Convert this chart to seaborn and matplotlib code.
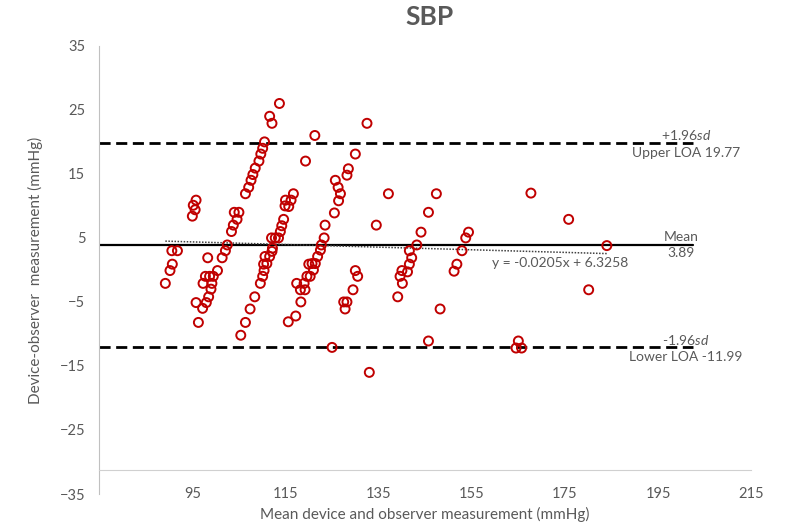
import numpy as np
import pandas as pd
import matplotlib.pyplot as plt
import seaborn as sns

# --- Settings ---
sns.set_style("white")
plt.rcParams["font.family"] = ["Lato", "DejaVu Sans"]
plt.rcParams["mathtext.fontset"] = "custom"
plt.rcParams["mathtext.it"] = "Lato:italic"
plt.rcParams["mathtext.rm"] = "Lato"

grey = "#595959"
red = "#C00000"

# --- Data ---
mean_bp = [107.1, 106.4, 95.8, 95.2, 95.6, 95.0, 104.0, 105.0, 104.6,
           103.8, 103.4, 90.6, 91.8, 102.5, 102.1, 101.4, 98.3, 90.7, 90.2,
           100.4, 89.2, 97.8, 98.7, 99.5, 97.3, 99.2, 99.0, 98.5, 95.8,
           98.0, 97.2, 96.3, 108.4, 107.4, 106.4, 105.4,
           113.7, 111.6, 112.1, 121.3, 110.5, 110.1, 109.7, 109.3, 108.5, 108.0,
           107.6, 119.3, 125.7, 126.3, 126.8, 126.4, 125.5, 123.5, 123.3, 122.7,
           128.5, 128.2, 116.7, 116.2, 115.0, 114.9, 115.7, 114.6, 114.2, 113.9,
           113.5, 112.0, 112.8, 112.2,
           122.5, 112.1, 111.6, 110.6, 111.0, 110.3, 110.4, 110.1, 109.6, 121.9,
           121.4, 120.7, 120.0, 121.0, 120.3, 119.6, 119.0, 117.4, 118.2, 119.2,
           118.3, 117.2, 115.6, 125.0, 127.5, 128.2, 127.8,
           132.5, 130.0, 137.1, 147.4, 145.7, 134.5, 144.1, 143.2, 154.3, 153.7,
           152.9, 141.6, 142.1, 141.6, 141.2, 140.0, 139.6, 140.1, 151.8, 151.2,
           130.0, 130.5, 129.5, 139.1, 148.2, 145.7, 133.0,
           167.7, 175.8, 180.1, 165.0, 164.5, 165.7, 184.0]
diff_bp = [12.9, 11.9, 10.9, 10.1, 9.4, 8.4, 9.0, 9.0, 7.9,
           7.0, 6.0, 3.0, 3.0, 3.9, 3.0, 1.9, 1.9, 0.9, -0.1,
           -0.1, -2.1, -1.0, -1.0, -1.0, -2.1, -2.1, -3.0, -4.2, -5.1,
           -5.1, -6.0, -8.2, -4.2, -6.1, -8.2, -10.2,
           26.0, 24.0, 22.9, 21.0, 20.0, 19.0, 18.1, 17.0, 15.9, 14.9,
           14.0, 17.0, 14.0, 12.9, 11.9, 10.8, 8.9, 7.0, 5.0, 3.9,
           15.8, 14.8, 11.9, 10.9, 10.9, 10.0, 9.9, 7.9, 6.9, 6.0,
           5.0, 5.0, 5.0, 3.4,
           3.1, 2.9, 2.1, 2.1, 1.0, 0.9, -0.1, -1.0, -2.1, 2.1,
           1.0, 1.0, 0.9, 0.0, -1.0, -1.0, -2.1, -2.1, -3.1, -3.1,
           -5.0, -7.2, -8.1, -12.1, -5.0, -5.0, -6.1,
           22.9, 18.1, 11.9, 11.9, 9.0, 7.0, 5.9, 3.9, 5.9, 5.0,
           3.0, 3.0, 1.9, 0.9, -0.3, -0.1, -1.0, -2.1, 0.9, -0.2,
           -0.1, -1.0, -3.1, -4.2, -6.1, -11.1, -16.0,
           12.0, 7.9, -3.1, -11.1, -12.2, -12.2, 3.8]

mean_diff = 3.89
upper_loa = 19.77
lower_loa = -11.99
slope = -0.0205
intercept = 6.3258

df = pd.DataFrame({"mean": mean_bp, "diff": diff_bp})

# --- Plot ---
fig = plt.figure(figsize=(8, 5.27), dpi=100)
ax = fig.add_axes([0.124, 0.0626, 0.815, 0.8504])

line_x = [75, 202.5]
ax.plot(line_x, [upper_loa, upper_loa], color="black", lw=2, ls=(0, (4, 2)))
ax.plot(line_x, [lower_loa, lower_loa], color="black", lw=2, ls=(0, (4, 2)))
ax.plot(line_x, [mean_diff, mean_diff], color="black", lw=1.6)

reg_x = np.array([df["mean"].min(), df["mean"].max()])
ax.plot(reg_x, slope * reg_x + intercept, color="#404040", lw=1.1, ls=(0, (1, 1)))

sns.scatterplot(data=df, x="mean", y="diff", ax=ax, marker="o", s=42,
                facecolor="none", edgecolor=red, linewidth=1.4, zorder=3)

# --- Annotations ---
tkw = dict(color=grey, fontsize=10, ha="center", va="center")
ax.text(201.0, 21.1, "+1.96$\\it{sd}$", **tkw)
ax.text(201.0, 18.3, "Upper LOA {:.2f}".format(upper_loa), **tkw)
ax.text(200.0, 5.2, "Mean", **tkw)
ax.text(200.0, 2.7, "{:.2f}".format(mean_diff), **tkw)
ax.text(201.0, -10.9, "-1.96$\\it{sd}$", **tkw)
ax.text(201.0, -13.6, "Lower LOA {:.2f}".format(lower_loa), **tkw)
ax.text(174.0, 1.1, "y = {:.4f}x + {:.4f}".format(slope, intercept), **tkw)

# --- Axes ---
ax.set_xlim(75, 215)
ax.set_ylim(-35, 35)
ax.set_xticks(range(95, 216, 20))
ax.set_yticks(range(-35, 36, 10))
for s in ["top", "right"]:
    ax.spines[s].set_visible(False)
ax.spines["bottom"].set_position(("data", -31.3))
ax.spines["bottom"].set_color("#d0d0d0")
ax.spines["left"].set_color("#c0c0c0")
ax.tick_params(axis="x", direction="out", length=4, color="#c0c0c0", pad=8,
               labelsize=10.5, labelcolor=grey)
ax.tick_params(axis="y", direction="out", length=4, color="#c0c0c0", pad=6,
               labelsize=10.5, labelcolor=grey)
ax.set_xlabel("Mean device and observer measurement (mmHg)", fontsize=11,
              color=grey)
ax.set_ylabel("Device-observer  measurement (mmHg)", fontsize=11, color=grey,
              labelpad=12)
ax.xaxis.set_label_coords(0.5, -0.028)
fig.suptitle("SBP", fontsize=19, fontweight="bold", color=grey, x=0.537, y=0.99)

fig.savefig("out.png", dpi=100)
